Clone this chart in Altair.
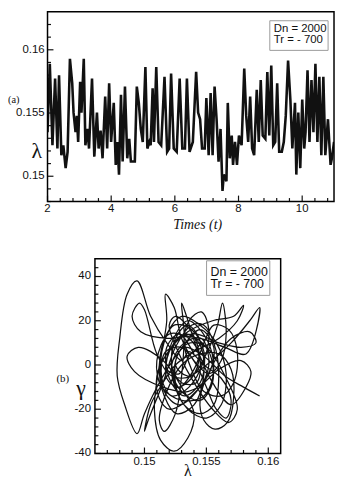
import altair as alt
import pandas as pd

# ---------- panel (a): time series ----------
t_vals = [2.000, 2.072, 2.155, 2.238, 2.311, 2.362, 2.435, 2.497, 2.569, 2.631,
          2.704, 2.776, 2.818, 2.880, 2.921, 2.963, 3.025, 3.066, 3.139, 3.190,
          3.253, 3.304, 3.398, 3.470, 3.553, 3.605, 3.667, 3.729, 3.812, 3.874,
          3.936, 3.998, 4.081, 4.143, 4.195, 4.246, 4.308, 4.360, 4.433, 4.505,
          4.567, 4.619, 4.692, 4.743, 4.805, 4.868, 4.930, 4.992, 5.075, 5.137,
          5.199, 5.240, 5.302, 5.344, 5.416, 5.489, 5.571, 5.675, 5.758, 5.820,
          5.882, 5.965, 6.058, 6.151, 6.234, 6.317, 6.379, 6.462, 6.565, 6.669,
          6.731, 6.793, 6.855, 6.938, 6.990, 7.062, 7.124, 7.186, 7.248, 7.311,
          7.373, 7.435, 7.497, 7.538, 7.580, 7.621, 7.663, 7.725, 7.787, 7.828,
          7.890, 7.952, 8.014, 8.097, 8.180, 8.242, 8.304, 8.366, 8.428, 8.491,
          8.573, 8.636, 8.698, 8.760, 8.843, 8.905, 8.967, 9.029, 9.091, 9.153,
          9.215, 9.278, 9.360, 9.422, 9.484, 9.557, 9.629, 9.691, 9.774, 9.816,
          9.878, 9.940, 10.002, 10.064, 10.106, 10.168, 10.230, 10.292, 10.354, 10.416,
          10.478, 10.540, 10.602, 10.665, 10.727, 10.810, 10.892, 10.934, 11.000]
lam_vals = [0.15348, 0.15889, 0.15245, 0.15773, 0.15219, 0.15799, 0.15167, 0.15245, 0.15064, 0.15193,
            0.15928, 0.15735, 0.15503, 0.15348, 0.15477, 0.15271, 0.15747, 0.15503, 0.15928, 0.15245,
            0.15374, 0.15219, 0.15773, 0.15155, 0.15503, 0.15219, 0.15361, 0.15142, 0.15631, 0.15219,
            0.15735, 0.15271, 0.15580, 0.15090, 0.15271, 0.15013, 0.15644, 0.15116, 0.15709, 0.15142,
            0.15296, 0.15116, 0.15116, 0.15116, 0.15709, 0.15580, 0.15374, 0.15271, 0.15863, 0.15219,
            0.15271, 0.15245, 0.15696, 0.15271, 0.15863, 0.15271, 0.15245, 0.15786, 0.15193, 0.15219,
            0.15812, 0.15219, 0.15193, 0.15773, 0.15219, 0.15219, 0.15773, 0.15193, 0.15271, 0.15825,
            0.15503, 0.15451, 0.15219, 0.15219, 0.15619, 0.15167, 0.15657, 0.15167, 0.15709, 0.15451,
            0.15116, 0.15374, 0.14884, 0.15013, 0.14987, 0.14961, 0.15580, 0.15142, 0.15322, 0.15090,
            0.15271, 0.15090, 0.15322, 0.15245, 0.15851, 0.15477, 0.15271, 0.15631, 0.15219, 0.15167,
            0.15683, 0.15271, 0.15760, 0.15322, 0.15296, 0.15825, 0.15322, 0.15876, 0.15245, 0.15271,
            0.15735, 0.15193, 0.15193, 0.15271, 0.15477, 0.15915, 0.15606, 0.15219, 0.15580, 0.15013,
            0.15503, 0.15064, 0.15606, 0.15219, 0.15348, 0.15838, 0.15271, 0.15760, 0.15348, 0.15889,
            0.15271, 0.15786, 0.15167, 0.15786, 0.15167, 0.15451, 0.15090, 0.15142, 0.15271]

# ---------- panel (b): phase portrait (path order = list order) ----------
lam_b = [0.1540, 0.1528, 0.1518, 0.1520, 0.1532, 0.1545, 0.1548, 0.1538, 0.1524, 0.1514,
         0.1516, 0.1528, 0.1542, 0.1552, 0.1546, 0.1532, 0.1522, 0.1526, 0.1538, 0.1544,
         0.1536, 0.1520, 0.1510, 0.1514, 0.1530, 0.1548, 0.1556, 0.1550, 0.1535, 0.1522,
         0.1518, 0.1528, 0.1536,
         0.1545, 0.1535, 0.1525, 0.1522, 0.1530, 0.1545, 0.1555, 0.1552, 0.1540, 0.1528,
         0.1524, 0.1535, 0.1550, 0.1562, 0.1566, 0.1558, 0.1545, 0.1530, 0.1518, 0.1512,
         0.1516, 0.1526, 0.1540, 0.1548, 0.1544, 0.1532, 0.1520, 0.1518, 0.1528, 0.1540,
         0.1548, 0.1556, 0.1568, 0.1575, 0.1572, 0.1562, 0.1548, 0.1538, 0.1532, 0.1536,
         0.1546, 0.1552, 0.1548, 0.1536, 0.1522, 0.1514, 0.1517, 0.1530, 0.1542, 0.1550,
         0.1558, 0.1566, 0.1570, 0.1562, 0.1548, 0.1536,
         0.1530, 0.1518, 0.1505, 0.1494, 0.1486, 0.1480, 0.1478, 0.1484, 0.1494, 0.1500,
         0.1512, 0.1528, 0.1545, 0.1556, 0.1550, 0.1535, 0.1515, 0.1492, 0.1486, 0.1495,
         0.1515, 0.1530, 0.1540, 0.1535, 0.1524, 0.1513, 0.1508, 0.1512, 0.1518, 0.1517,
         0.1524, 0.1530, 0.1540, 0.1552, 0.1562, 0.1566, 0.1563, 0.1559, 0.1550, 0.1538,
         0.1522, 0.1510, 0.1500, 0.1496, 0.1490, 0.1497, 0.1520, 0.1542, 0.1560, 0.1578,
         0.1590, 0.1585, 0.1570, 0.1555, 0.1545, 0.1548, 0.1557, 0.1567, 0.1572, 0.1570,
         0.1560, 0.1545, 0.1530, 0.1518, 0.1512, 0.1516, 0.1525, 0.1530, 0.1532, 0.1530,
         0.1534, 0.1542, 0.1555, 0.1570, 0.1582, 0.1586, 0.1578, 0.1560, 0.1545, 0.1530,
         0.1520, 0.1512, 0.1510, 0.1518, 0.1535, 0.1555, 0.1572, 0.1580, 0.1575, 0.1560,
         0.1540, 0.1525, 0.1515, 0.1505, 0.1500, 0.1503, 0.1515, 0.1525, 0.1538, 0.1548,
         0.1556, 0.1560, 0.1556, 0.1545, 0.1532, 0.1525, 0.1527, 0.1537, 0.1550, 0.1565,
         0.1575, 0.1568, 0.1555, 0.1540, 0.1528, 0.1520, 0.1525, 0.1538, 0.1545, 0.1542,
         0.1530, 0.1522, 0.1527, 0.1545, 0.1565, 0.1582, 0.1593, 0.1585, 0.1570, 0.1550,
         0.1535, 0.1525, 0.1532, 0.1548, 0.1565, 0.1580, 0.1593]
gam_b = [5, 14, 8, -6, -14, -8, 6, 16, 18, 6,
         -12, -18, -12, 0, 12, 10, 0, -10, -6, 4,
         12, 14, 2, -10, -16, -14, -2, 12, 20, 10,
         -2, -4, 4,
         10, 18, 12, -2, -12, -16, -8, 6, 12, 6,
         -8, -20, -24, -18, -4, 10, 18, 22, 14, 0,
         -14, -22, -18, -4, 10, 14, 6, -6, -10, -2,
         10, 18, 16, 6, -8, -14, -12, -2, 10, 20,
         24, 16, 2, -10, -14, -6, 6, 8, 0, -10,
         -20, -24, -16, -6, 0, 6,
         2, 10, 22, 38, 32, 12, -5, -18, -31, -22,
         -8, 6, 16, 8, -6, -12, -10, -3, 4, 8,
         2, -10, -22, -33, -39, -34, -20, 0, 20, 32,
         26, 12, 2, -4, 2, 14, 28, 18, 5, -5,
         -5, 5, 25, 28, 22, 15, 12, 14, 10, 8,
         10, 15, 12, 0, -15, -25, -29, -26, -15, -2,
         5, 5, 0, -12, -25, -30, -22, -5, 15, 28,
         22, 8, -8, -18, -10, -3, 2, -2, -10, -18,
         -20, -15, -5, 5, 15, 20, 22, 27, 20, 12,
         6, 0, -8, -18, -30, -25, -8, 8, 18, 18,
         10, -5, -18, -22, -18, -8, 5, 10, 8, -5,
         -20, -26, -20, -8, 5, 18, 22, 15, 2, -8,
         -8, 0, 12, 12, 8, 5, 26, 20, 10, 0,
         -5, 0, 8, 4, -5, -10, -14]

# ---------- ticks / labels ----------
top_x_major = [2, 4, 6, 8, 10]
top_x_labels = ["2", "4", "6", "8", "10"]
top_x_minor = [2.4, 2.8, 3.2, 3.6, 4.4, 4.8, 5.2, 5.6, 6.4, 6.8, 7.2, 7.6,
               8.4, 8.8, 9.2, 9.6, 10.4, 10.8]
top_y_major = [0.15, 0.155, 0.16]
top_y_labels = ["0.15", "0.155", "0.16"]
top_y_minor = [0.148, 0.149, 0.151, 0.152, 0.153, 0.154, 0.156, 0.157,
               0.158, 0.159, 0.161, 0.162]
bot_x_major = [0.15, 0.155, 0.16]
bot_x_labels = ["0.15", "0.155", "0.16"]
bot_x_minor = [0.147, 0.148, 0.149, 0.151, 0.152, 0.153, 0.154, 0.156,
               0.157, 0.158, 0.159]
bot_y_major = [-40, -20, 0, 20, 40]
bot_y_labels = ["-40", "-20", "0", "20", "40"]
bot_y_minor = [-36, -32, -28, -24, -16, -12, -8, -4, 4, 8, 12, 16, 24, 28,
               32, 36, 44]
param_lines = ["Dn = 2000", "Tr = - 700"]

W1, H1 = 290, 192          # top plot area
X0B, W2, H2 = 48, 188, 197  # bottom plot area starts 48px right of the top one
INK = "#111111"
SERIF = "Liberation Serif"
SANS = "Liberation Sans"

one = pd.DataFrame({"a": [0]})
df1 = pd.DataFrame({"t": t_vals, "lam": lam_vals})
df2 = pd.DataFrame({"i": list(range(len(lam_b))), "lam": lam_b, "gam": gam_b})


def yticks(vals, length, scale, x0=0):
    return alt.Chart(pd.DataFrame({"v": vals})).mark_rule(color=INK, strokeWidth=1.2).encode(
        y=alt.Y("v:Q", scale=scale, axis=None),
        x=alt.value(x0), x2=alt.value(x0 + length))


def xticks(vals, length, scale, h):
    return alt.Chart(pd.DataFrame({"v": vals})).mark_rule(color=INK, strokeWidth=1.2).encode(
        x=alt.X("v:Q", scale=scale, axis=None),
        y=alt.value(h), y2=alt.value(h - length))


def ylabels(vals, labs, scale, x):
    return alt.Chart(pd.DataFrame({"v": vals, "lab": labs})).mark_text(
        align="right", baseline="middle", font=SANS, fontSize=11.5, color=INK).encode(
        y=alt.Y("v:Q", scale=scale, axis=None), x=alt.value(x), text="lab:N")


def xlabels(vals, labs, scale, y):
    return alt.Chart(pd.DataFrame({"v": vals, "lab": labs})).mark_text(
        align="center", baseline="top", font=SANS, fontSize=11.5, color=INK).encode(
        x=alt.X("v:Q", scale=scale, axis=None), y=alt.value(y), text="lab:N")


def label(text, x, y, size, font=SERIF, style="normal", align="center"):
    return alt.Chart(one).mark_text(text=text, font=font, fontSize=size, fontStyle=style,
                                    align=align, baseline="middle", color=INK).encode(
        x=alt.value(x), y=alt.value(y))


def box(x1, x2, y1, y2, stroke="#9a9a9a", width=1.0, fill="white"):
    return alt.Chart(one).mark_rect(fill=fill, stroke=stroke, strokeWidth=width).encode(
        x=alt.value(x1), x2=alt.value(x2), y=alt.value(y1), y2=alt.value(y2))


def frame(x1, x2, h):
    return alt.Chart(one).mark_rect(fillOpacity=0, stroke="black", strokeWidth=1.5).encode(
        x=alt.value(x1), x2=alt.value(x2), y=alt.value(0), y2=alt.value(h))


# ---------- top chart ----------
xs1 = alt.Scale(domain=[2, 11], nice=False, zero=False)
ys1 = alt.Scale(domain=[0.148, 0.163], nice=False, zero=False)

line1 = alt.Chart(df1).mark_line(color=INK, strokeWidth=2.6, clip=True).encode(
    x=alt.X("t:Q", scale=xs1, axis=None),
    y=alt.Y("lam:Q", scale=ys1, axis=None),
)

top = alt.layer(
    line1,
    yticks(top_y_major, 6, ys1), yticks(top_y_minor, 3.5, ys1),
    xticks(top_x_major, 6, xs1, H1), xticks(top_x_minor, 3.5, xs1, H1),
    ylabels(top_y_major, top_y_labels, ys1, -3),
    xlabels(top_x_major, top_x_labels, xs1, H1 + 2),
    frame(0, W1, H1),
    box(225, 284, 9, 39),
    label(param_lines[0], 229, 17, 11.5, font=SANS, align="left"),
    label(param_lines[1], 229, 29, 11.5, font=SANS, align="left"),
    label("(a)", -40, 89, 10.5, align="left"),
    label("λ", -11, 141, 22),
    label("Times (t)", 152, 216, 14, style="italic"),
).properties(width=W1, height=H1)

# ---------- bottom chart ----------
xs2 = alt.Scale(domain=[0.146, 0.161], range=[X0B, X0B + W2], nice=False, zero=False)
ys2 = alt.Scale(domain=[-40, 48], nice=False, zero=False)

line2 = alt.Chart(df2).mark_line(color=INK, strokeWidth=1.25, interpolate="catmull-rom",
                                 clip=True).encode(
    x=alt.X("lam:Q", scale=xs2, axis=None),
    y=alt.Y("gam:Q", scale=ys2, axis=None),
    order="i:Q",
)

bottom = alt.layer(
    line2,
    yticks(bot_y_major, 6, ys2, X0B), yticks(bot_y_minor, 3.5, ys2, X0B),
    xticks(bot_x_major, 6, xs2, H2), xticks(bot_x_minor, 3.5, xs2, H2),
    ylabels(bot_y_major, bot_y_labels, ys2, X0B - 4),
    xlabels(bot_x_major, bot_x_labels, xs2, H2 + 3),
    frame(X0B, X0B + W2, H2),
    box(X0B + 113, X0B + 177, 2, 37),
    label(param_lines[0], X0B + 117, 13, 12.5, font=SANS, align="left"),
    label(param_lines[1], X0B + 117, 26, 12.5, font=SANS, align="left"),
    label("(b)", X0B - 39, 122, 11, align="left"),
    label("γ", X0B - 14, 131, 22),
    label("λ", X0B + 94, 215, 16),
).properties(width=X0B + W2, height=H2)

chart = alt.vconcat(top, bottom, spacing=26).properties(
    padding={"left": 0, "top": 0, "right": 0, "bottom": 0}
).configure_view(stroke=None)

chart.save("out.html", embed_options={"renderer": "svg", "actions": False})
